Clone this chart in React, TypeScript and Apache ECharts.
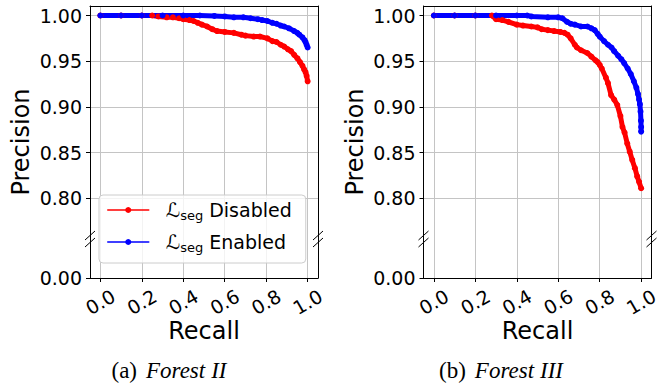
import React, { useEffect, useRef } from "react";
import * as echarts from "echarts";

// ---------- data ----------
const xTickValues = [0, 0.2, 0.4, 0.6, 0.8, 1.0];
const yTickValues = [0.8, 0.85, 0.9, 0.95, 1.0];
const yLowTickValues = [0];
const seriesNames = ["Disabled", "Enabled"];
const panelCaptions = [["(a)", "Forest", "II"], ["(b)", "Forest", "III"]];

// Forest II
const f2DisRecall = [0, 0.1, 0.2, 0.25, 0.28, 0.32, 0.35, 0.38, 0.4, 0.43, 0.45, 0.47, 0.49, 0.515, 0.54, 0.563, 0.6, 0.644, 0.68, 0.7, 0.74, 0.77, 0.806, 0.83, 0.85, 0.87, 0.887, 0.905, 0.92, 0.935, 0.951, 0.963, 0.975, 0.983, 0.99, 0.995, 1.0];
const f2DisPrecision = [1.0, 1.0, 1.0, 1.0, 0.999, 0.998, 0.998, 0.997, 0.996, 0.995, 0.994, 0.992, 0.99, 0.988, 0.985, 0.983, 0.982, 0.981, 0.979, 0.978, 0.977, 0.977, 0.975, 0.972, 0.971, 0.968, 0.966, 0.963, 0.961, 0.957, 0.953, 0.949, 0.945, 0.941, 0.938, 0.934, 0.928];
const f2EnRecall = [0, 0.1, 0.2, 0.3, 0.4, 0.48, 0.55, 0.6, 0.644, 0.69, 0.725, 0.76, 0.78, 0.806, 0.83, 0.85, 0.87, 0.887, 0.91, 0.935, 0.95, 0.96, 0.975, 0.985, 0.99, 0.995, 1.0];
const f2EnPrecision = [1.0, 1.0, 1.0, 1.0, 1.0, 1.0, 0.9995, 0.999, 0.998, 0.998, 0.997, 0.996, 0.995, 0.994, 0.992, 0.991, 0.989, 0.988, 0.986, 0.983, 0.981, 0.979, 0.976, 0.973, 0.971, 0.968, 0.965];

// Forest III
const f3DisRecall = [0, 0.1, 0.2, 0.28, 0.3, 0.33, 0.36, 0.4, 0.43, 0.47, 0.5, 0.52, 0.55, 0.58, 0.61, 0.63, 0.645, 0.66, 0.68, 0.69, 0.71, 0.74, 0.76, 0.78, 0.79, 0.8, 0.81, 0.83, 0.84, 0.855, 0.87, 0.885, 0.9, 0.91, 0.92, 0.933, 0.945, 0.957, 0.97, 0.981, 0.99, 1.0];
const f3DisPrecision = [1.0, 1.0, 1.0, 1.0, 0.996, 0.995, 0.993, 0.99, 0.989, 0.988, 0.987, 0.985, 0.984, 0.983, 0.982, 0.981, 0.979, 0.975, 0.968, 0.965, 0.962, 0.959, 0.955, 0.951, 0.949, 0.946, 0.942, 0.932, 0.926, 0.913, 0.908, 0.902, 0.89, 0.878, 0.872, 0.86, 0.851, 0.842, 0.833, 0.824, 0.818, 0.811];
const f3EnRecall = [0, 0.1, 0.2, 0.3, 0.4, 0.45, 0.47, 0.55, 0.6, 0.62, 0.643, 0.66, 0.68, 0.71, 0.741, 0.76, 0.776, 0.79, 0.8, 0.821, 0.84, 0.857, 0.87, 0.889, 0.905, 0.918, 0.935, 0.95, 0.965, 0.977, 0.985, 0.99, 0.994, 0.997, 0.999, 1.0, 1.0];
const f3EnPrecision = [1.0, 1.0, 1.0, 1.0, 1.0, 1.0, 0.999, 0.998, 0.998, 0.997, 0.993, 0.991, 0.99, 0.988, 0.988, 0.986, 0.984, 0.98, 0.977, 0.972, 0.968, 0.965, 0.961, 0.956, 0.952, 0.948, 0.942, 0.936, 0.928, 0.921, 0.914, 0.908, 0.903, 0.895, 0.885, 0.878, 0.873];

// ---------- layout / style ----------
const FONT = "DejaVu Sans";
const SERIF = "Liberation Serif";
const GRID_COLOR = "#c4c4c4";
const panels = [
  { left: 90, width: 228, dis: [f2DisRecall, f2DisPrecision], en: [f2EnRecall, f2EnPrecision] },
  { left: 423.5, width: 228, dis: [f3DisRecall, f3DisPrecision], en: [f3EnRecall, f3EnPrecision] },
];
const TOP = 6;
const BREAK_Y = 239;
const BOTTOM = 278;

const zip = (xs: number[], ys: number[]) => xs.map((x, i) => [x, ys[i]]);

function buildOption() {
  const grid: any[] = [];
  const xAxis: any[] = [];
  const yAxis: any[] = [];
  const series: any[] = [];
  const graphic: any[] = [];
  const axisLineStyle = { show: true, onZero: false, lineStyle: { color: "#000", width: 1 } };
  const noLine = { show: false, onZero: false };
  const splitLineStyle = { show: true, lineStyle: { color: GRID_COLOR, width: 1 } };

  panels.forEach((p, pi) => {
    const gTop = grid.length;
    grid.push({ left: p.left, top: TOP, width: p.width, height: BREAK_Y - TOP });
    grid.push({ left: p.left, top: BREAK_Y, width: p.width, height: BOTTOM - BREAK_Y });
    grid.push({ left: p.left, top: TOP, width: p.width, height: BOTTOM - TOP });
    const gBot = gTop + 1;
    const gFrame = gTop + 2;

    const xBase = { type: "value", min: -0.05, max: 1.05, minInterval: 0.2, maxInterval: 0.2 };
    const xTopIdx = xAxis.length;
    xAxis.push({
      ...xBase, gridIndex: gTop, position: "top",
      axisLine: axisLineStyle, axisTick: { show: false }, axisLabel: { show: false },
      splitLine: splitLineStyle,
    });
    xAxis.push({
      ...xBase, gridIndex: gBot, position: "bottom",
      axisLine: axisLineStyle,
      axisTick: { show: true, customValues: xTickValues, length: 4, lineStyle: { color: "#000" } },
      axisLabel: {
        show: true, customValues: xTickValues, rotate: 30, align: "center", verticalAlign: "middle", margin: 24,
        fontFamily: FONT, fontSize: 19, color: "#000",
        formatter: (v: number) => v.toFixed(1),
      },
      splitLine: splitLineStyle,
    });
    xAxis.push({ ...xBase, gridIndex: gFrame, show: false });

    const yTopBase = { type: "value", min: 0.7555, max: 1.0104, minInterval: 0.05, maxInterval: 0.05 };
    const yTopIdx = yAxis.length;
    yAxis.push({
      ...yTopBase, gridIndex: gTop, position: "left",
      axisLine: noLine,
      axisTick: { show: true, customValues: yTickValues, length: 4, lineStyle: { color: "#000" } },
      axisLabel: {
        show: true, customValues: yTickValues, margin: 8, fontFamily: FONT, fontSize: 19, color: "#000",
        formatter: (v: number) => v.toFixed(2),
      },
      splitLine: splitLineStyle,
    });
    yAxis.push({
      type: "value", min: 0, max: 0.0427, gridIndex: gBot, position: "left",
      axisLine: noLine,
      axisTick: { show: true, customValues: yLowTickValues, length: 4, lineStyle: { color: "#000" } },
      axisLabel: {
        show: true, customValues: yLowTickValues, margin: 8, fontFamily: FONT, fontSize: 19, color: "#000",
        formatter: (v: number) => v.toFixed(2),
      },
      splitLine: { show: false },
    });
    // frame spines (left & right), continuous across the break
    ["left", "right"].forEach((pos) => {
      yAxis.push({
        type: "value", min: 0, max: 1, gridIndex: gFrame, position: pos,
        axisLine: axisLineStyle, axisTick: { show: false }, axisLabel: { show: false }, splitLine: { show: false },
      });
    });

    const mk = (name: string, color: string, xs: number[], ys: number[]) => ({
      type: "line", name, xAxisIndex: xTopIdx, yAxisIndex: yTopIdx,
      data: zip(xs, ys), symbol: "circle", symbolSize: 6, showSymbol: true,
      itemStyle: { color }, lineStyle: { color, width: 5, cap: "round", join: "round" },
      emphasis: { disabled: true }, z: 2,
    });
    series.push(mk(seriesNames[0], "#ff0000", p.dis[0], p.dis[1]));
    series.push(mk(seriesNames[1], "#0000ff", p.en[0], p.en[1]));

    // axis texts
    const cx = p.left + p.width / 2;
    graphic.push({
      type: "text", x: 21 + pi * 334, y: 142, rotation: Math.PI / 2, z: 10,
      style: { text: "Precision", fontFamily: FONT, fontSize: 24, fill: "#000", align: "center", verticalAlign: "middle" },
    });
    graphic.push({
      type: "text", x: cx, y: 331, z: 10,
      style: { text: "Recall", fontFamily: FONT, fontSize: 24, fill: "#000", align: "center", verticalAlign: "middle" },
    });
    const cap = panelCaptions[pi];
    graphic.push({
      type: "text", x: pi === 0 ? 169 : 501, y: 370, z: 10,
      style: {
        text: `{n|${cap[0]}}{i|${cap[1]}}{j|${cap[2]}}`,
        align: "center", verticalAlign: "middle",
        rich: {
          n: { fontFamily: SERIF, fontSize: 23, fill: "#000" },
          i: { fontFamily: SERIF, fontSize: 23, fontStyle: "italic", fill: "#000", padding: [0, 0, 0, 9] },
          j: { fontFamily: SERIF, fontSize: 23, fontStyle: "italic", fill: "#000", padding: [0, 0, 0, 6] },
        },
      },
    });
    // break marks
    [p.left, p.left + p.width].forEach((sx) => {
      [BREAK_Y - 3.5, BREAK_Y + 3.5].forEach((yc) => {
        graphic.push({
          type: "line", z: 10,
          shape: { x1: sx - 5, y1: yc + 4.5, x2: sx + 5, y2: yc - 4.5 },
          style: { stroke: "#000", lineWidth: 1 },
        });
      });
    });
  });

  return {
    animation: false,
    backgroundColor: "#fff",
    grid, xAxis, yAxis, series, graphic,
    legend: {
      data: seriesNames, orient: "vertical", left: 99, top: 195,
      padding: [5, 14, 9, 8], itemWidth: 41, itemHeight: 7.5, itemGap: 10,
      selectedMode: false,
      backgroundColor: "rgba(255,255,255,0.8)", borderColor: "#cccccc", borderWidth: 1, borderRadius: 4,
      lineStyle: { width: 1.5 },
      formatter: (name: string) => `{L|ℒ}{s|seg}{t| ${name}}`,
      textStyle: {
        fontFamily: FONT, fontSize: 19, color: "#000",
        rich: {
          L: { fontFamily: FONT, fontSize: 20, lineHeight: 24, padding: [0, 0, 0, 12], color: "#000" },
          s: { fontFamily: FONT, fontSize: 13, verticalAlign: "bottom", color: "#000" },
          t: { fontFamily: FONT, fontSize: 19, lineHeight: 24, color: "#000" },
        },
      },
      z: 5,
    },
  };
}

export default function App() {
  const ref = useRef<HTMLDivElement>(null);
  useEffect(() => {
    const chart = echarts.init(ref.current!, null, { renderer: "svg" });
    chart.setOption(buildOption() as any);
    return () => chart.dispose();
  }, []);
  return (
    <div
      ref={ref}
      style={{ position: "fixed", left: 0, top: 0, width: 668, height: 383, background: "#fff" }}
    />
  );
}
